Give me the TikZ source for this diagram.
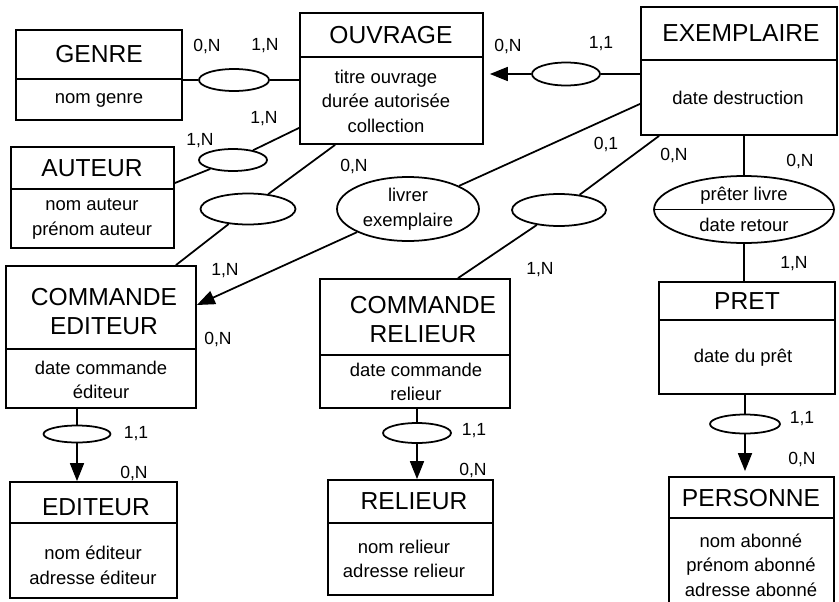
\documentclass[tikz,border=0pt]{standalone}
\usepackage{fontspec}
\setmainfont{Liberation Sans}
\usetikzlibrary{shapes.geometric,arrows.meta}

\begin{document}
\begin{tikzpicture}[x=0.02cm,y=-0.02cm,line width=1pt,
    entite/.style={draw,rectangle,inner sep=0pt},
    titre/.style={font=\fontsize{14}{16.5}\selectfont,align=center},
    attr/.style={font=\fontsize{10.5}{14}\selectfont,align=center},
    card/.style={font=\fontsize{10}{12}\selectfont},
    rel/.style={draw,ellipse,fill=white,inner sep=0pt,font=\fontsize{10.5}{14}\selectfont,align=center},
    fleche/.style={-{Triangle[length=0.36cm,width=0.28cm]}}]
        \useasboundingbox (0,0) rectangle (839,602);
        % entites
        \node[entite,minimum width=3.32cm,minimum height=1.8cm] (genre) at (99,75) {};
        \draw (genre.west |- 0,79) -- (genre.east |- 0,79);
        \node[titre] (genre-t) at (99,54) {GENRE};
        \node[attr] (genre-a) at (99,100) {nom genre};

        \node[entite,minimum width=3.66cm,minimum height=2.62cm] (ouvrage) at (391.5,78.5) {};
        \draw (ouvrage.west |- 0,57) -- (ouvrage.east |- 0,57);
        \node[titre] (ouvrage-t) at (391,35) {OUVRAGE};
        \node[attr] (ouvrage-a) at (386,101) {titre ouvrage\\durée autorisée\\collection};

        \node[entite,minimum width=3.92cm,minimum height=2.56cm] (exemplaire) at (739,71) {};
        \draw (exemplaire.west |- 0,60) -- (exemplaire.east |- 0,60);
        \node[titre] (exemplaire-t) at (741,33) {EXEMPLAIRE};
        \node[attr] (exemplaire-a) at (738,98) {date destruction};

        \node[entite,minimum width=3.26cm,minimum height=2.02cm] (auteur) at (92.5,197.5) {};
        \draw (auteur.west |- 0,189) -- (auteur.east |- 0,189);
        \node[titre] (auteur-t) at (92,168) {AUTEUR};
        \node[attr] (auteur-a) at (92,219) {nom auteur\\prénom auteur};

        \node[entite,minimum width=3.8cm,minimum height=2.84cm] (cmded) at (101,337) {};
        \draw (cmded.west |- 0,349) -- (cmded.east |- 0,349);
        \node[titre] (cmded-t) at (104,312) {COMMANDE\\EDITEUR};
        \node[attr] (cmded-a) at (101,380) {date commande\\éditeur};

        \node[entite,minimum width=3.34cm,minimum height=2.32cm] (editeur) at (93.5,540) {};
        \draw (editeur.west |- 0,523) -- (editeur.east |- 0,523);
        \node[titre] (editeur-t) at (96,507) {EDITEUR};
        \node[attr] (editeur-a) at (93,565) {nom éditeur\\adresse éditeur};

        \node[entite,minimum width=3.8cm,minimum height=2.58cm] (cmdrel) at (415,343.5) {};
        \draw (cmdrel.west |- 0,355) -- (cmdrel.east |- 0,355);
        \node[titre] (cmdrel-t) at (423,320) {COMMANDE\\RELIEUR};
        \node[attr] (cmdrel-a) at (416,382) {date commande\\relieur};

        \node[entite,minimum width=3.3cm,minimum height=2.3cm] (relieur) at (410.5,537.5) {};
        \draw (relieur.west |- 0,523) -- (relieur.east |- 0,523);
        \node[titre] (relieur-t) at (414,501) {RELIEUR};
        \node[attr] (relieur-a) at (404,559) {nom relieur\\adresse relieur};

        \node[entite,minimum width=3.52cm,minimum height=2.24cm] (pret) at (747,338) {};
        \draw (pret.west |- 0,320) -- (pret.east |- 0,320);
        \node[titre] (pret-t) at (747,301) {PRET};
        \node[attr] (pret-a) at (743,358) {date du prêt};

        \node[entite,minimum width=3.3cm,minimum height=2.52cm] (personne) at (751.5,540) {};
        \draw (personne.west |- 0,518) -- (personne.east |- 0,518);
        \node[titre] (personne-t) at (751,498) {PERSONNE};
        \node[attr] (personne-a) at (751,565) {nom abonné\\prénom abonné\\adresse abonné};

        % associations
        \node[rel,minimum width=1.4cm,minimum height=0.44cm] (classer) at (234,80) {};
        \node[rel,minimum width=1.36cm,minimum height=0.44cm] (ecrire) at (233,160) {};
        \node[rel,minimum width=1.9cm,minimum height=0.62cm] (commander) at (248,209) {};
        \node[rel,minimum width=2.84cm,minimum height=1.28cm] (livrer) at (408,209) {livrer\\exemplaire};
        \node[rel,minimum width=1.88cm,minimum height=0.64cm] (relier) at (559,210) {};
        \node[rel,minimum width=1.36cm,minimum height=0.46cm] (correspondre) at (566,74) {};
        \node[rel,minimum width=3.6cm,minimum height=1.34cm] (preter) at (744,209.5) {prêter livre\\[4pt]date retour};
        \draw (preter.west) -- (preter.east);
        \node[rel,minimum width=1.34cm,minimum height=0.34cm] (editer) at (77,434) {};
        \node[rel,minimum width=1.36cm,minimum height=0.4cm] (faire) at (417,433) {};
        \node[rel,minimum width=1.4cm,minimum height=0.38cm] (emprunter) at (745,424) {};

        % liens
        \draw (classer) -- (classer -| genre.east);
        \draw (classer) -- (classer -| ouvrage.west);
        \draw (ecrire) -- ([yshift=0.29cm]auteur.east);
        \draw (ecrire) -- ([yshift=0.34cm]ouvrage.south west);
        \draw (commander) -- ([xshift=0.72cm]ouvrage.south west);
        \draw (commander) -- ([xshift=-0.42cm]cmded.north east);
        \draw (livrer) -- ([yshift=0.64cm]exemplaire.south west);
        \draw[fleche] (livrer) -- ([yshift=0.64cm]cmded.east);
        \draw (relier) -- ([xshift=0.38cm]exemplaire.south west);
        \draw (relier) -- ([xshift=0.86cm]cmdrel.north);
        \draw (correspondre) -- (correspondre -| exemplaire.west);
        \draw[fleche,shorten >=0.12cm] (correspondre) -- (correspondre -| ouvrage.east);
        \draw (preter) -- (preter |- exemplaire.south);
        \draw (preter) -- (preter |- pret.north);
        \draw (editer) -- (editer |- cmded.south);
        \draw[fleche] (editer) -- (editer |- editeur.north);
        \draw (faire) -- (faire |- cmdrel.south);
        \draw[fleche] (faire) -- (faire |- relieur.north);
        \draw (emprunter) -- (emprunter |- pret.south);
        \draw[fleche,shorten >=0.1cm] (emprunter) -- (emprunter |- personne.north);

        % cardinalites
        \node[card] (c1) at (207,46) {0,N};
        \node[card] (c2) at (265,46) {1,N};
        \node[card] (c3) at (264,119) {1,N};
        \node[card] (c4) at (200,141) {1,N};
        \node[card] (c5) at (354,166) {0,N};
        \node[card] (c6) at (508,46) {0,N};
        \node[card] (c7) at (601,44) {1,1};
        \node[card] (c8) at (606,144) {0,1};
        \node[card] (c9) at (674,155) {0,N};
        \node[card] (c10) at (800,161) {0,N};
        \node[card] (c11) at (794,264) {1,N};
        \node[card] (c12) at (225,271) {1,N};
        \node[card] (c13) at (218,339) {0,N};
        \node[card] (c14) at (136,434) {1,1};
        \node[card] (c15) at (134,473) {0,N};
        \node[card] (c16) at (540,270) {1,N};
        \node[card] (c17) at (474,431) {1,1};
        \node[card] (c18) at (473,470) {0,N};
        \node[card] (c19) at (802,419) {1,1};
        \node[card] (c20) at (802,459) {0,N};
      \end{tikzpicture}
\end{document}
